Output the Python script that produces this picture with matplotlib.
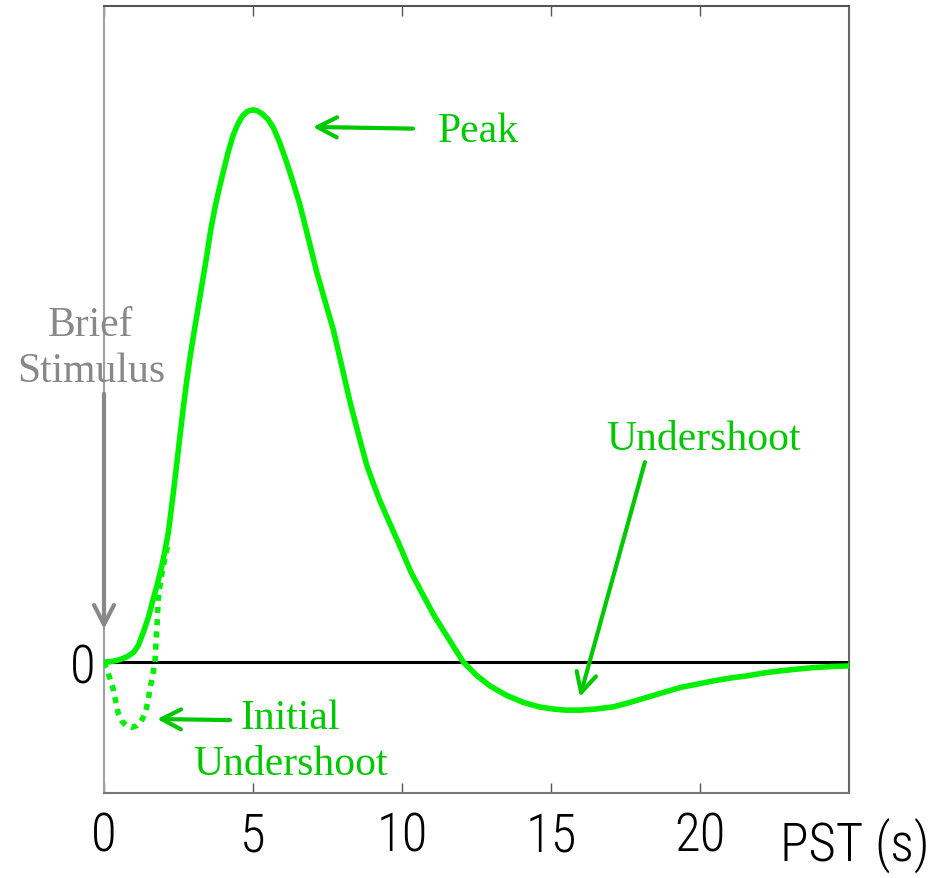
import matplotlib
matplotlib.use("Agg")
import matplotlib.pyplot as plt
from matplotlib import font_manager

# haemodynamic response, time after stimulus (s) vs. normalised signal
t_hrf = [0, 0.25, 0.5, 0.75, 1.0, 1.15, 1.32, 1.5, 1.65, 1.8, 1.94, 2.05,
         2.16, 2.3, 2.44, 2.55, 2.66, 2.77, 2.89, 3.03, 3.17, 3.31, 3.45,
         3.58, 3.72, 3.86, 4.0, 4.17, 4.34, 4.5, 4.65, 4.8, 5.0, 5.15, 5.3,
         5.5, 5.68, 5.9, 6.13, 6.35, 6.58, 6.86, 7.14, 7.41, 7.69, 7.97,
         8.26, 8.54, 8.82, 9.04, 9.26, 9.6, 9.93, 10.3, 10.72, 11.1, 11.5,
         11.8, 12.06, 12.5, 12.95, 13.5, 14.07, 14.6, 15.08, 15.5, 15.97,
         16.5, 17.09, 17.65, 18.21, 18.77, 19.33, 19.9, 20.45, 21.0, 21.57,
         22.1, 22.68, 23.2, 23.8, 24.4, 25.0]
y_hrf = [0, 0.001, 0.004, 0.009, 0.018, 0.03, 0.054, 0.083, 0.114, 0.143,
         0.174, 0.203, 0.235, 0.295, 0.358, 0.41, 0.46, 0.507, 0.553, 0.6,
         0.645, 0.691, 0.736, 0.782, 0.822, 0.856, 0.887, 0.924, 0.955,
         0.975, 0.989, 0.997, 1.0, 0.998, 0.993, 0.983, 0.968, 0.94, 0.905,
         0.868, 0.827, 0.767, 0.706, 0.655, 0.603, 0.538, 0.47, 0.412,
         0.356, 0.323, 0.292, 0.25, 0.21, 0.163, 0.12, 0.082, 0.048, 0.022,
         0.0, -0.024, -0.043, -0.06, -0.073, -0.081, -0.085, -0.087, -0.087,
         -0.085, -0.081, -0.073, -0.064, -0.055, -0.046, -0.04, -0.034,
         -0.029, -0.025, -0.02, -0.016, -0.013, -0.010, -0.008, -0.007]

# early dip (dotted)
t_dip = [0, 0.09, 0.2, 0.31, 0.4, 0.48, 0.6, 0.75, 0.93, 1.1, 1.25, 1.38,
         1.47, 1.54, 1.63, 1.71, 1.77, 1.82, 1.9, 1.99, 2.08, 2.16]
y_dip = [0, -0.013, -0.03, -0.049, -0.073, -0.093, -0.107, -0.115, -0.118,
         -0.115, -0.107, -0.093, -0.073, -0.049, -0.025, 0.0, 0.057, 0.114,
         0.147, 0.174, 0.197, 0.217]

x_ticks = [0, 5, 10, 15, 20]
x_ticklabels = ["0", "5", "10", "15", "20"]

CURVE = "#00f000"
NOTE = "#00c800"
GREY = "#888888"
serif = ["Liberation Serif", "DejaVu Serif"]


def narrow_font():
    # pick the narrowest sans face on this machine for the axis numbers
    fonts = font_manager.fontManager.ttflist
    names = {f.name for f in fonts}
    for name in ["Liberation Sans Narrow", "Roboto Condensed",
                 "Open Sans Condensed", "Noto Sans Condensed"]:
        if name in names:
            return font_manager.FontProperties(family=name, weight="light",
                                               size=38)
    for f in fonts:
        if f.name == "DejaVu Sans" and "ondensed" in f.fname:
            return font_manager.FontProperties(fname=f.fname, size=34)
    return font_manager.FontProperties(family="Liberation Sans", size=33)


tick_font = narrow_font()

fig = plt.figure(figsize=(9.37, 8.79), dpi=100)
ax = fig.add_axes([104 / 937, 1 - 794 / 879, 745 / 937, 787 / 879])
ax.set_xlim(0, 25)
ax.set_ylim(-0.237, 1.188)

ax.axhline(0, color="black", lw=2.2, zorder=1)
ax.plot(t_hrf, y_hrf, color=CURVE, lw=4, solid_capstyle="round",
        solid_joinstyle="round", zorder=3)
ax.plot(t_dip, y_dip, color=CURVE, lw=4, linestyle=(0, (1.1, 1.1)),
        dash_capstyle="butt", zorder=3)

# axes frame
for side, col in [("left", "#a0a0a0"), ("bottom", "#777777"),
                  ("top", "#555555"), ("right", "#666666")]:
    ax.spines[side].set_color(col)
    ax.spines[side].set_linewidth(1.5)

ax.set_xticks(x_ticks)
ax.set_xticklabels(x_ticklabels, fontproperties=tick_font)
ax.set_yticks([0])
ax.set_yticklabels(["0"], fontproperties=tick_font)
ax.tick_params(axis="x", direction="in", length=7, width=1, color="#555555",
               top=True, pad=12)
ax.tick_params(axis="y", length=0, pad=6)
fig.text(855 / 937, 1 - 846 / 879, "PST (s)", fontproperties=tick_font,
         ha="center", va="center")

arrow = dict(arrowstyle="->,head_length=0.7,head_width=0.36", lw=3,
             mutation_scale=20, shrinkA=0, shrinkB=0)

# peak
ax.annotate("", xy=(7.01, 0.969), xytext=(10.37, 0.966),
            arrowprops=dict(arrow, color=NOTE))
ax.text(11.2, 0.944, "Peak", family=serif, fontsize=30, color=NOTE,
        va="baseline")

# late undershoot
ax.annotate("", xy=(15.97, -0.063), xytext=(18.15, 0.362),
            arrowprops=dict(arrow, color=NOTE))
ax.text(16.85, 0.386, "Undershoot", family=serif, fontsize=30, color=NOTE,
        va="baseline")

# initial dip
ax.annotate("", xy=(1.78, -0.103), xytext=(4.23, -0.105),
            arrowprops=dict(arrow, color=NOTE))
ax.text(6.24, -0.203, "Initial\nUndershoot", family=serif, fontsize=30,
        color=NOTE, ha="center", va="baseline", linespacing=1.25)

# stimulus onset
ax.annotate("", xy=(0, 0.06), xytext=(0, 0.486),
            arrowprops=dict(arrow, color=GREY))
ax.text(-0.44, 0.509, "Brief\nStimulus", family=serif, fontsize=30,
        color=GREY, ha="center", va="baseline", linespacing=1.25, clip_on=False)

fig.savefig("out.png", dpi=100)
